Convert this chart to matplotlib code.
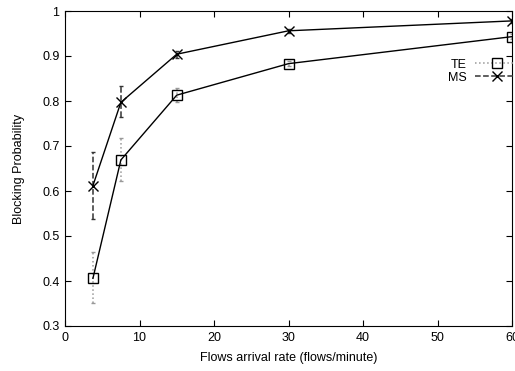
import matplotlib
matplotlib.use('Agg')
import matplotlib.pyplot as plt
from matplotlib.lines import Line2D

plt.rcParams['font.family'] = ['Liberation Sans', 'DejaVu Sans']

rate = [3.75, 7.5, 15, 30, 60]
te = [0.406, 0.669, 0.813, 0.883, 0.943]
te_lo = [0.352, 0.622, 0.797, 0.877, 0.937]
te_hi = [0.464, 0.717, 0.829, 0.889, 0.949]
ms = [0.612, 0.797, 0.904, 0.956, 0.978]
ms_lo = [0.537, 0.764, 0.896, 0.952, 0.974]
ms_hi = [0.686, 0.833, 0.912, 0.960, 0.982]

fig = plt.figure(figsize=(5.15, 3.71), dpi=100)
ax = fig.add_axes([65/515, 45/371, 447/515, 315/371])

# error bars first, then connecting lines with markers
te_err = [[m - l for m, l in zip(te, te_lo)], [h - m for m, h in zip(te, te_hi)]]
ms_err = [[m - l for m, l in zip(ms, ms_lo)], [h - m for m, h in zip(ms, ms_hi)]]
eb1 = ax.errorbar(rate, te, yerr=te_err, fmt='none', ecolor='#999999', elinewidth=1.1, capsize=1.5)
eb1[2][0].set_linestyle(':')
eb2 = ax.errorbar(rate, ms, yerr=ms_err, fmt='none', ecolor='#333333', elinewidth=1.1, capsize=1.5)
eb2[2][0].set_linestyle('--')

ax.plot(rate, te, color='black', lw=1, marker='s', ms=6.5, mfc='none', mec='black', mew=1)
ax.plot(rate, ms, color='black', lw=1, marker='x', ms=6.5, mec='black', mew=1)

ax.set_xlim(0, 60)
ax.set_ylim(0.3, 1.0)
ax.set_xticks([0, 10, 20, 30, 40, 50, 60])
ax.set_yticks([0.3, 0.4, 0.5, 0.6, 0.7, 0.8, 0.9, 1.0])
ax.set_yticklabels(['0.3', '0.4', '0.5', '0.6', '0.7', '0.8', '0.9', '1'])
ax.tick_params(direction='in', top=True, right=True, length=4, labelsize=9, pad=4)
ax.set_xlabel('Flows arrival rate (flows/minute)', fontsize=9, labelpad=6)
ax.set_ylabel('Blocking Probability', fontsize=9, labelpad=12)

handles = [
    Line2D([], [], color='#999999', ls=':', lw=1.1, marker='s', ms=6.5, mfc='none', mec='black'),
    Line2D([], [], color='#333333', ls='--', lw=1.1, marker='x', ms=6.5, mec='black'),
]
ax.legend(handles, ['TE', 'MS'], loc='upper right', bbox_to_anchor=(1.028, 0.865),
          frameon=False, markerfirst=False, handlelength=3.6, handletextpad=0.6,
          labelspacing=0.1, fontsize=9, borderaxespad=0)

fig.savefig('out.png', dpi=100)
